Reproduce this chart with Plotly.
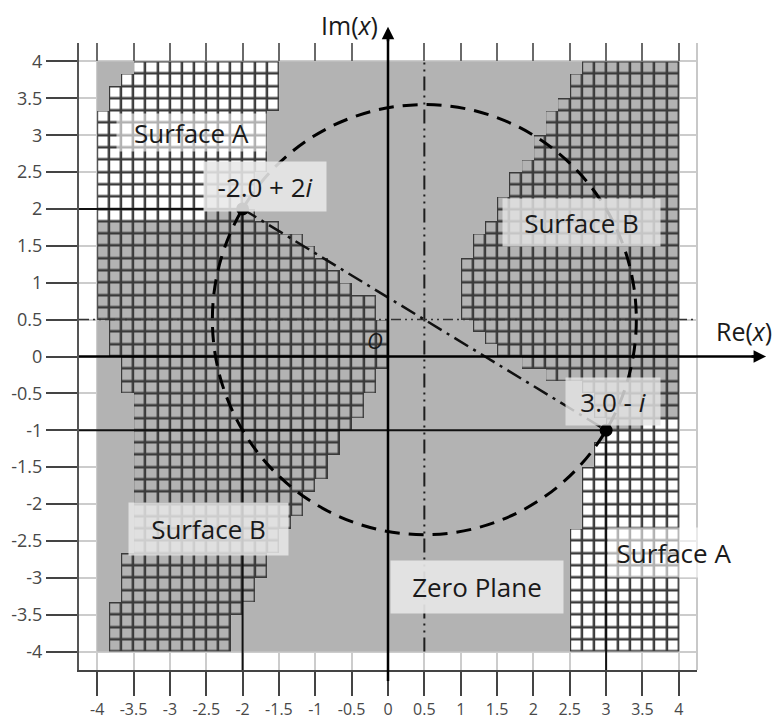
import numpy as np
import plotly.graph_objects as go

# ---------------- data ----------------
tick_vals = [-4, -3.5, -3, -2.5, -2, -1.5, -1, -0.5, 0, 0.5, 1, 1.5, 2, 2.5, 3, 3.5, 4]
tick_text = ['-4', '-3.5', '-3', '-2.5', '-2', '-1.5', '-1', '-0.5', '0',
             '0.5', '1', '1.5', '2', '2.5', '3', '3.5', '4']

root_re = [-2.0, 3.0]
root_im = [2.0, -1.0]
root_labels = ['-2.0 + 2<i>i</i>', '3.0 - <i>i</i>']

# boundaries of the visible surfaces (seen from above)
surf_a_top = [(-4.0, 3.15), (-3.75, 3.6), (-3.5, 4.0), (-1.52, 4.0), (-1.56, 3.47),
              (-1.64, 3.0), (-1.72, 2.62), (-1.8, 2.35), (-2.0, 2.0), (-2.5, 1.9),
              (-4.0, 1.87)]
surf_a_bottom = [(3.0, -1.0), (4.0, -0.85), (4.0, -4.0), (2.49, -4.0), (2.5, -3.2),
                 (2.54, -2.6), (2.6, -2.15), (2.68, -1.75), (2.8, -1.45)]
surf_b_left = [(-4.0, 1.87), (-2.5, 1.9), (-2.0, 2.0), (-1.5, 1.75), (-1.08, 1.58),
               (-0.96, 1.35), (-0.83, 1.22), (-0.66, 1.08), (-0.48, 0.91), (-0.16, 0.7),
               (-0.05, 0.5), (0.0, 0.32), (-0.05, 0.09), (-0.08, -0.14), (-0.14, -0.31),
               (-0.25, -0.49), (-0.39, -0.76), (-0.57, -0.99), (-0.7, -1.3), (-0.84, -1.57),
               (-0.98, -1.66), (-1.12, -1.93), (-1.39, -2.34), (-1.58, -2.74), (-1.76, -2.99),
               (-1.9, -3.28), (-2.08, -3.55), (-2.17, -3.82), (-2.31, -4.0), (-3.94, -4.0),
               (-3.87, -3.82), (-3.8, -3.55), (-3.73, -3.28), (-3.65, -2.88), (-3.55, -2.5),
               (-3.5, -2.0), (-3.5, -1.39), (-3.52, -0.85), (-3.63, -0.38), (-3.71, -0.1),
               (-3.82, 0.16), (-3.92, 0.47), (-4.0, 0.55)]
surf_b_right = [(2.69, 4.0), (4.0, 4.0), (4.0, -0.85), (3.0, -1.0), (2.8, -0.6),
                (2.5, -0.33), (2.0, -0.2), (1.77, -0.08), (1.53, 0.09), (1.35, 0.23),
                (1.16, 0.36), (1.05, 0.55), (0.98, 0.8), (1.0, 1.1), (1.09, 1.35),
                (1.16, 1.58), (1.39, 1.8), (1.67, 2.3), (1.84, 2.57), (2.01, 2.84),
                (2.18, 3.16), (2.34, 3.43), (2.49, 3.7)]

plane_extent = [-4.0, 4.0]
mesh_cells = 48
axis_range = [-4.25, 4.25]
re_axis_span = [-4.25, 5.2]
im_axis_span = [-4.4, 4.47]

# (text, x, y, box width, box height, box colour)
labels = [
    ('Surface A', -2.70, 3.03, 147, 35, 'rgba(255,255,255,0.6)'),
    (root_labels[0], -1.69, 2.30, 120, 47, 'rgba(232,232,232,0.88)'),
    ('Surface B', 2.66, 1.82, 155, 45, 'rgba(228,228,228,0.82)'),
    (root_labels[1], 3.10, -0.61, 92, 45, 'rgba(228,228,228,0.82)'),
    ('Surface B', -2.47, -2.34, 157, 50, 'rgba(232,232,232,0.85)'),
    ('Zero Plane', 1.23, -3.12, 170, 50, 'rgba(230,230,230,0.92)'),
    ('Surface A', 3.93, -2.66, 130, 47, 'rgba(255,255,255,0.6)'),
]

# ---------------- build the surface cells ----------------
def inside(px, py, poly):
    poly = np.asarray(poly, float)
    xs, ys = poly[:, 0], poly[:, 1]
    res = np.zeros(px.shape, bool)
    j = len(poly) - 1
    for i in range(len(poly)):
        xi, yi, xj, yj = xs[i], ys[i], xs[j], ys[j]
        cond = ((yi > py) != (yj > py)) & (px < (xj - xi) * (py - yi) / (yj - yi + 1e-12) + xi)
        res ^= cond
        j = i
    return res

step = (plane_extent[1] - plane_extent[0]) / mesh_cells
centers = plane_extent[0] + step * (np.arange(mesh_cells) + 0.5)
GX, GY = np.meshgrid(centers, centers)
cls = np.zeros(GX.shape, int)
for poly in (surf_a_top, surf_a_bottom):
    cls[inside(GX, GY, poly)] = 1
for poly in (surf_b_left, surf_b_right):
    cls[inside(GX, GY, poly)] = 2

z_base = (cls > 0).astype(int).tolist()
z_cells = [[None if v == 0 else int(v) for v in row] for row in cls]

fig = go.Figure()
fig.add_trace(go.Heatmap(x=centers, y=centers, z=z_base, zmin=0, zmax=1,
                         colorscale=[[0, '#b3b3b3'], [1, '#3a3a3a']],
                         showscale=False, hoverinfo='skip'))
fig.add_trace(go.Heatmap(x=centers, y=centers, z=z_cells, zmin=1, zmax=2,
                         colorscale=[[0, '#ffffff'], [1, '#b3b3b3']],
                         xgap=2.5, ygap=2.5, showscale=False, hoverinfo='skip'))

cx = float(np.mean(root_re))
cy = float(np.mean(root_im))
r = float(np.hypot(root_re[1] - root_re[0], root_im[1] - root_im[0]) / 2)

# centre lines
fig.add_trace(go.Scatter(x=[cx, cx], y=plane_extent, mode='lines',
                         line=dict(color='#1e1e1e', width=2, dash='14px,5px,2px,5px,2px,5px'),
                         hoverinfo='skip'))
fig.add_trace(go.Scatter(x=axis_range, y=[cy, cy], mode='lines',
                         line=dict(color='#333333', width=1.5, dash='10px,4px,2px,4px,2px,4px'),
                         hoverinfo='skip'))
# drop lines from the roots
for xr, yr in zip(root_re, root_im):
    fig.add_trace(go.Scatter(x=[axis_range[0], xr, xr], y=[yr, yr, axis_range[0]], mode='lines',
                             line=dict(color='#111111', width=2), hoverinfo='skip'))
# chord through the roots
fig.add_trace(go.Scatter(x=root_re, y=root_im, mode='lines',
                         line=dict(color='#111111', width=2.5, dash='16px,6px,3px,6px'),
                         hoverinfo='skip'))
fig.add_trace(go.Scatter(x=root_re, y=root_im, mode='markers',
                         marker=dict(color='black', size=13), hoverinfo='skip'))
# dummy trace for top tick axis
fig.add_trace(go.Scatter(x=[None], y=[None], xaxis='x2', yaxis='y', mode='markers',
                         hoverinfo='skip'))

span = axis_range[1] - axis_range[0]
def fx(v):
    return (v - axis_range[0]) / span

shapes = [
    dict(type='circle', xref='x', yref='y', x0=cx - r, x1=cx + r, y0=cy - r, y1=cy + r,
         line=dict(color='black', width=3, dash='15px,9px')),
    dict(type='line', xref='paper', yref='paper', x0=1, x1=1, y0=0, y1=1,
         line=dict(color='#c8c8c8', width=2)),
    dict(type='line', xref='paper', yref='y', x0=fx(re_axis_span[0]), x1=fx(re_axis_span[1]) - 0.01,
         y0=0, y1=0, line=dict(color='black', width=2.5)),
    dict(type='line', xref='x', yref='paper', x0=0, x1=0, y0=fx(im_axis_span[0]),
         y1=fx(im_axis_span[1]) - 0.01, line=dict(color='black', width=2.5)),
]

font_lbl = dict(family='Open Sans', size=26, color='#1a1a1a')
font_axis = dict(family='Open Sans', size=25, color='#1a1a1a')
annotations = []
for text, x, y, w, h, bg in labels:
    annotations.append(dict(text=text, x=x, y=y, xref='x', yref='y', showarrow=False,
                            width=w, height=h, bgcolor=bg, font=font_lbl, align='center',
                            valign='middle', xanchor='center', yanchor='middle'))
annotations += [
    dict(text='<i>O</i>', x=-0.18, y=0.22, xref='x', yref='y', showarrow=False,
         font=dict(family='Open Sans', size=22, color='#1a1a1a')),
    dict(text='Re(<i>x</i>)', x=fx(4.9), y=0.35, xref='paper', yref='y', showarrow=False,
         xanchor='center', yanchor='middle', font=font_axis),
    dict(text='Im(<i>x</i>)', x=-0.53, y=fx(4.5), xref='x', yref='paper', showarrow=False,
         xanchor='center', yanchor='middle', font=font_axis),
    dict(text='', x=fx(re_axis_span[1]), y=0, xref='paper', yref='y', showarrow=True,
         ax=-16, ay=0, arrowhead=2, arrowsize=1, arrowwidth=2.5, arrowcolor='black'),
    dict(text='', x=0, y=fx(im_axis_span[1]), xref='x', yref='paper', showarrow=True,
         ax=0, ay=16, arrowhead=2, arrowsize=1, arrowwidth=2.5, arrowcolor='black'),
]

tickfont_y = dict(family='Open Sans', size=18, color='#484848')
tickfont_x = dict(family='Open Sans', size=16, color='#484848')
fig.update_layout(
    width=777, height=720,
    margin=dict(l=79, r=80, t=43, b=50, autoexpand=False),
    paper_bgcolor='white', plot_bgcolor='white',
    showlegend=False,
    shapes=shapes, annotations=annotations,
    xaxis=dict(range=axis_range, tickvals=tick_vals, ticktext=tick_text, ticks='outside',
               ticklen=24, tickwidth=2, tickcolor='#444444', showline=True, linecolor='#444444',
               linewidth=2, showgrid=True, gridcolor='#cccccc', gridwidth=2, zeroline=False,
               tickfont=tickfont_x, fixedrange=True, automargin=False),
    yaxis=dict(range=axis_range, tickvals=tick_vals, ticktext=tick_text, ticks='outside',
               ticklen=31, tickwidth=2, tickcolor='#444444', showline=True, linecolor='#555555',
               linewidth=2, showgrid=True, gridcolor='#cccccc', gridwidth=2, zeroline=False,
               tickfont=tickfont_y, fixedrange=True, automargin=False),
    xaxis2=dict(range=axis_range, overlaying='x', side='top', tickvals=tick_vals,
                ticks='inside', ticklen=18, tickwidth=2, tickcolor='#6a6a6a',
                showticklabels=False, showgrid=False, showline=False, zeroline=False,
                fixedrange=True, automargin=False),
)

fig.write_html('out.html', post_script="document.body.style.margin='0px';",
               config={'displayModeBar': False})
